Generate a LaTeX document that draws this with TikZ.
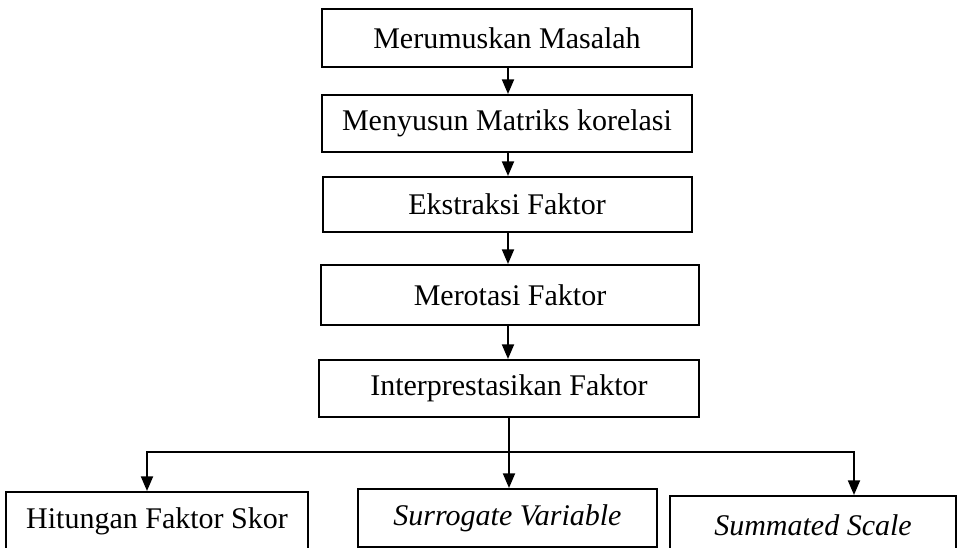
\documentclass[tikz,border=0pt]{standalone}
\usepackage{fontspec}
\setmainfont{Liberation Serif}
\usetikzlibrary{arrows.meta}
\begin{document}
\begin{tikzpicture}[x=0.75pt,y=-0.75pt,
  boxstyle/.style={draw, line width=1.5pt, rectangle, inner sep=0pt,
    font=\fontsize{22.5}{27}\selectfont},
  arr/.style={line width=1.5pt, -{Triangle[width=9pt,length=11pt]}},
  ln/.style={line width=1.5pt}]
\useasboundingbox (0,0) rectangle (958,547);
\clip (0,0) rectangle (958,547);
\node[boxstyle, minimum width=370*0.75pt, minimum height=58*0.75pt] (b1) at (507,38) {Merumuskan Masalah};
\node[boxstyle, minimum width=370*0.75pt, minimum height=57*0.75pt] (b2) at (507,123.5) {Menyusun Matriks korelasi};
\node[boxstyle, minimum width=369*0.75pt, minimum height=55*0.75pt] (b3) at (507,204.5) {Ekstraksi Faktor};
\node[boxstyle, minimum width=378*0.75pt, minimum height=60*0.75pt] (b4) at (510,295) {Merotasi Faktor};
\node[boxstyle, minimum width=380*0.75pt, minimum height=57*0.75pt] (b5) at (509,388.5) {Interprestasikan Faktor};
\node[boxstyle, minimum width=302*0.75pt, minimum height=58*0.75pt] (c1) at (157,521) {Hitungan Faktor Skor};
\node[boxstyle, minimum width=299*0.75pt, minimum height=58*0.75pt] (c2) at (507.5,518) {\itshape Surrogate Variable};
\node[boxstyle, minimum width=286*0.75pt, minimum height=58*0.75pt] (c3) at (813,525) {\itshape Summated Scale};
\coordinate (a1) at (508,0);
\draw[arr] (b1.south -| a1) -- (b2.north -| a1);
\draw[arr] (b2.south -| a1) -- (b3.north -| a1);
\draw[arr] (b3.south -| a1) -- (b4.north -| a1);
\draw[arr] (b4.south -| a1) -- (b5.north -| a1);
\coordinate (j) at (509,452);
\coordinate (jl) at (147,452);
\coordinate (jr) at (854,452);
\draw[ln] (b5.south -| j) -- (j);
\draw[ln] (jl) -- (jr);
\draw[arr] (j) -- (c2.north -| j);
\draw[arr] ([yshift=0.75pt]jl) -- (c1.north -| jl);
\draw[arr] ([yshift=0.75pt]jr) -- (c3.north -| jr);
\end{tikzpicture}
\end{document}
